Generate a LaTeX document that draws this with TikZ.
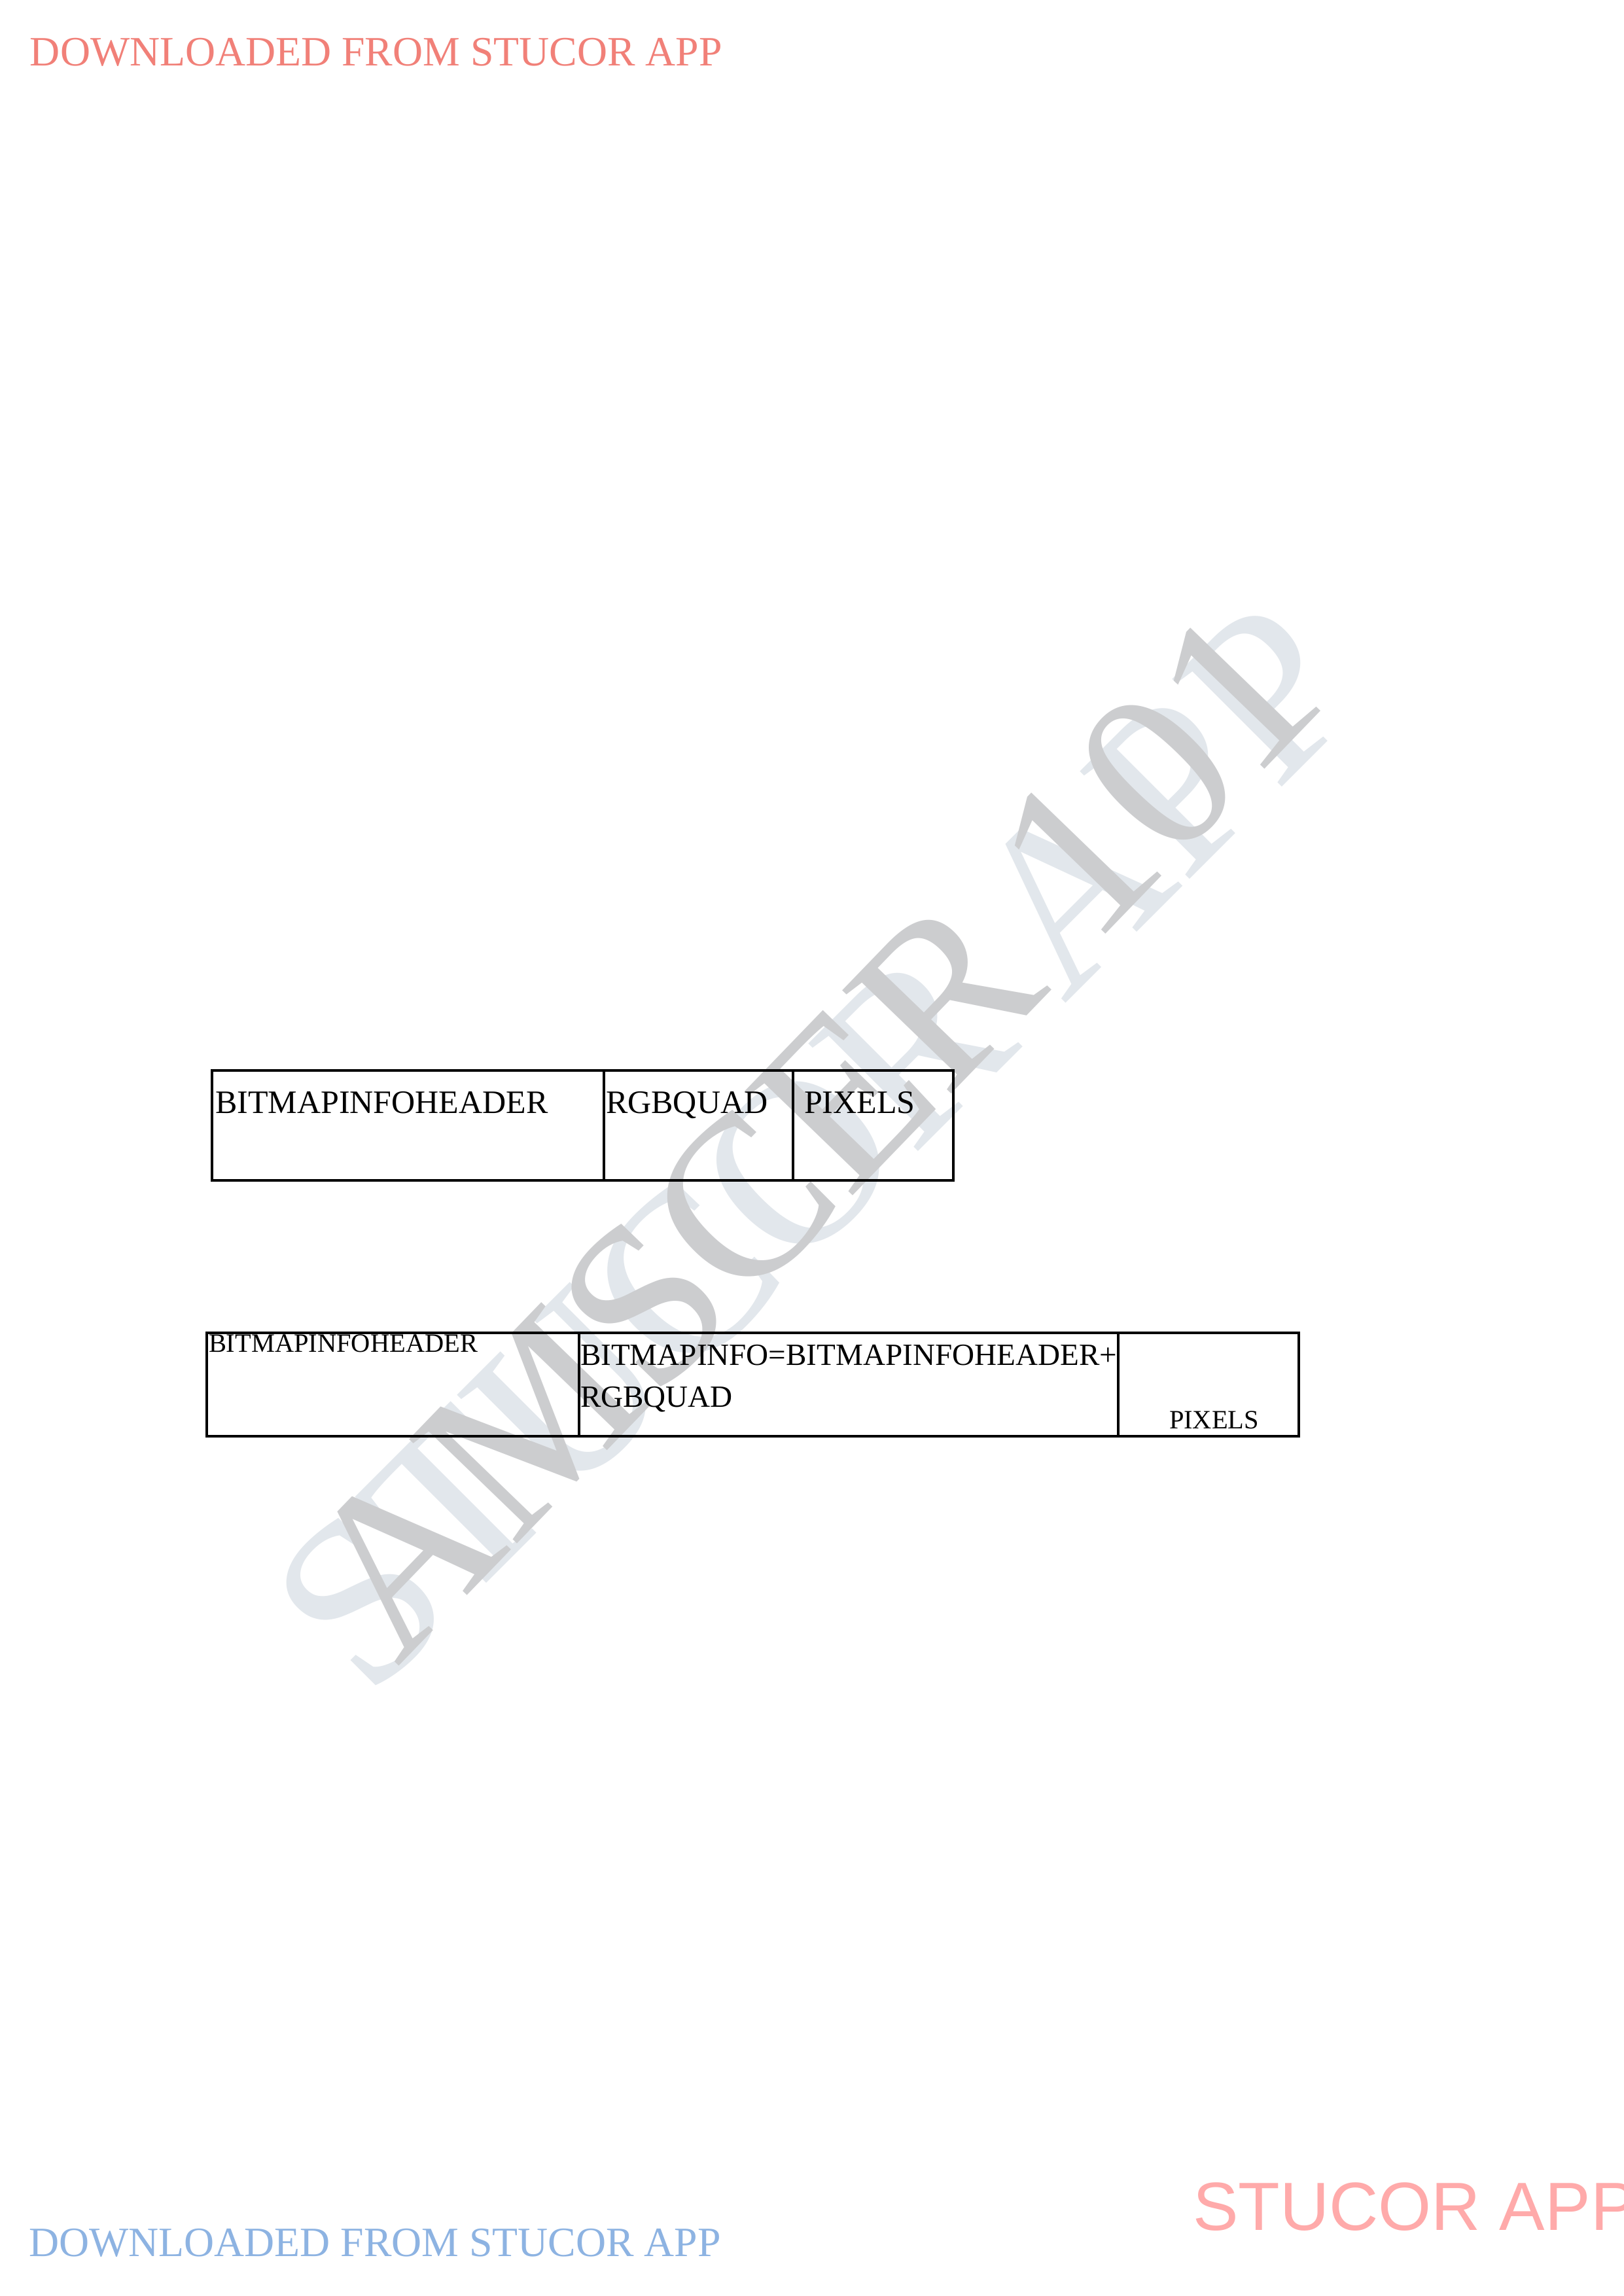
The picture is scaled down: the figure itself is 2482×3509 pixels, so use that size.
\documentclass[tikz,border=0pt]{standalone}
\usepackage{fontspec}
\setmainfont{Liberation Serif}
\newfontfamily\sansf{Liberation Sans}
\definecolor{topred}{RGB}{241,128,120}
\definecolor{botblue}{RGB}{141,179,226}
\definecolor{pinkwm}{RGB}{255,170,170}
\definecolor{wmlight}{RGB}{226,231,236}
\definecolor{wmdark}{RGB}{204,205,207}
\begin{document}
\begin{tikzpicture}[x=0.23984pt,y=-0.23984pt,
  lbl/.style={anchor=base west, inner sep=0pt, outer sep=0pt},
  cellline/.style={draw=black, line width=0.9pt},
  fbig/.style={font=\fontsize{12}{14}\selectfont},
  fmid/.style={font=\fontsize{11.3}{13}\selectfont},
  fsmall/.style={font=\fontsize{9.7}{11}\selectfont},
  fhead/.style={font=\fontsize{15.3}{18}\selectfont},
  wm/.style={inner sep=0pt}]
\useasboundingbox (0,0) rectangle (2482,3509);
\fill[white] (0,0) rectangle (2482,3509);

% watermark
\node[wm, rotate=45, text=wmlight, font=\fontsize{86}{90}\selectfont] (wmA) at (1245,1752) {STUCOR APP};
\node[wm, rotate=46, text=wmdark, font=\fontsize{84}{88}\selectfont] (wmB) at (1238,1730) {AMSCER 101};

% header / footer
\node[lbl, fhead, text=topred] (hdr) at (46,100) {DOWNLOADED FROM STUCOR APP};
\node[lbl, fhead, text=botblue] (ftr) at (44,3448) {DOWNLOADED FROM STUCOR APP};
\node[lbl, text=pinkwm, font=\sansf\fontsize{25}{28}\selectfont] (stu) at (1823,3408) {STUCOR APP};

% table 1
\draw[cellline] (324,1636) rectangle (923,1804);
\draw[cellline] (923,1636) rectangle (1212,1804);
\draw[cellline] (1212,1636) rectangle (1457,1804);
\node[lbl, fbig] (t1a) at (329,1701) {BITMAPINFOHEADER};
\node[lbl, fbig] (t1b) at (926,1701) {RGBQUAD};
\node[lbl, fbig] (t1c) at (1229,1701) {PIXELS};

% table 2
\draw[cellline] (316,2037) rectangle (885,2195);
\draw[cellline] (885,2037) rectangle (1709,2195);
\draw[cellline] (1709,2037) rectangle (1985,2195);
\node[lbl, fsmall] (t2a) at (319,2066) {BITMAPINFOHEADER};
\node[lbl, fmid] (t2b) at (887,2086) {BITMAPINFO=BITMAPINFOHEADER+};
\node[lbl, fmid] (t2c) at (887,2150) {RGBQUAD};
\node[lbl, fsmall] (t2d) at (1787,2183) {PIXELS};
\end{tikzpicture}
\end{document}
